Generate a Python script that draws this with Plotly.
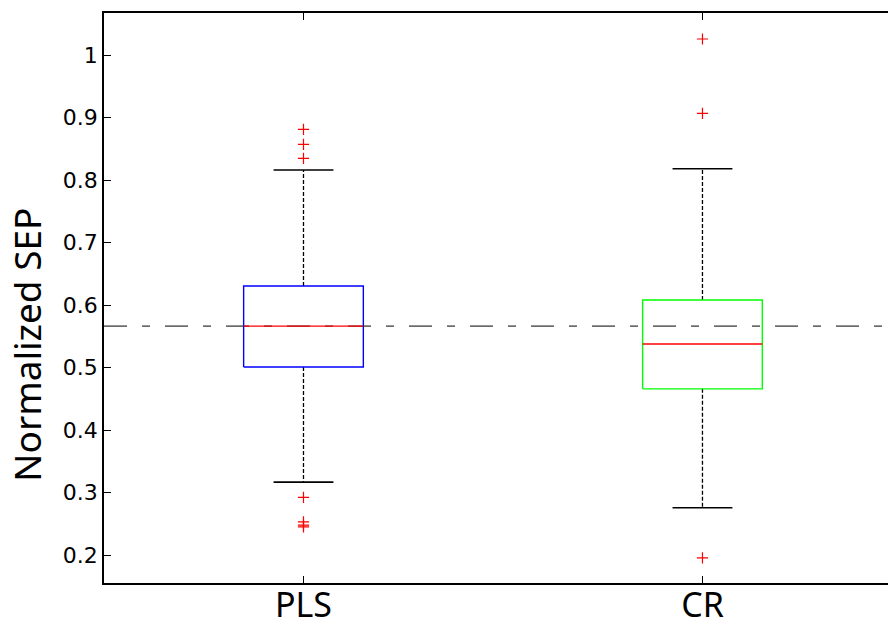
import plotly.graph_objects as go

# ---- data ----
categories = ["PLS", "CR"]
positions = [1, 2]
q1 = [0.501, 0.466]
median = [0.5665, 0.5377]
q3 = [0.6306, 0.6082]
lower_whisker = [0.3167, 0.2756]
upper_whisker = [0.8163, 0.8184]
outliers = [
    [0.8815, 0.8575, 0.835, 0.2922, 0.2532, 0.2480, 0.2452],
    [1.0261, 0.9071, 0.1955],
]
box_colors = ["#0000ff", "#00ff00"]
y_ticks = [0.2, 0.3, 0.4, 0.5, 0.6, 0.7, 0.8, 0.9, 1.0]
y_ticktext = ["0.2", "0.3", "0.4", "0.5", "0.6", "0.7", "0.8", "0.9", "1"]

BOX_HALF = 0.15
CAP_HALF = 0.075

fig = go.Figure()

# reference line at the first median
fig.add_trace(go.Scatter(
    x=[0.5, 2.6], y=[median[0], median[0]], mode="lines",
    line=dict(color="black", width=1, dash="23px,15px,8px,15px"),
    hoverinfo="skip", showlegend=False))

for i, p in enumerate(positions):
    # whiskers (dashed)
    fig.add_trace(go.Scatter(
        x=[p, p, None, p, p],
        y=[q3[i], upper_whisker[i], None, q1[i], lower_whisker[i]],
        mode="lines", line=dict(color="black", width=1.3, dash="4px,2px"),
        hoverinfo="skip", showlegend=False))
    # caps
    fig.add_trace(go.Scatter(
        x=[p - CAP_HALF, p + CAP_HALF, None, p - CAP_HALF, p + CAP_HALF],
        y=[upper_whisker[i], upper_whisker[i], None, lower_whisker[i], lower_whisker[i]],
        mode="lines", line=dict(color="black", width=1.6),
        hoverinfo="skip", showlegend=False))
    # box
    fig.add_trace(go.Scatter(
        x=[p - BOX_HALF, p + BOX_HALF, p + BOX_HALF, p - BOX_HALF, p - BOX_HALF],
        y=[q1[i], q1[i], q3[i], q3[i], q1[i]],
        mode="lines", line=dict(color=box_colors[i], width=1.4),
        hoverinfo="skip", showlegend=False))
    # median
    fig.add_trace(go.Scatter(
        x=[p - BOX_HALF, p + BOX_HALF], y=[median[i], median[i]],
        mode="lines", line=dict(color="#ff0000", width=1.4),
        hoverinfo="skip", showlegend=False))
    # outliers
    fig.add_trace(go.Scatter(
        x=[p] * len(outliers[i]), y=outliers[i], mode="markers",
        marker=dict(symbol="cross-thin", size=8, line=dict(color="#ff0000", width=1.2)),
        hoverinfo="skip", showlegend=False))

fig.update_layout(
    width=888, height=625,
    margin=dict(l=104, r=0, t=13, b=42),
    paper_bgcolor="white", plot_bgcolor="white",
    xaxis=dict(
        range=[0.5, 2.465], tickvals=positions, ticktext=categories,
        showgrid=False, zeroline=False,
        showline=True, linecolor="black", linewidth=1.5, mirror="ticks",
        ticks="inside", ticklen=7, tickwidth=1, tickcolor="black",
        ticklabelstandoff=-9,
        tickfont=dict(family="Noto Sans", size=34, color="black"),
        automargin=False),
    yaxis=dict(
        range=[0.1552, 1.0677], tickvals=y_ticks, ticktext=y_ticktext,
        showgrid=False, zeroline=False,
        showline=True, linecolor="black", linewidth=1.5, mirror=False,
        ticks="inside", ticklen=7, tickwidth=1, tickcolor="black",
        tickfont=dict(family="DejaVu Sans", size=22, color="black"),
        automargin=False),
    annotations=[dict(
        text="Normalized SEP", xref="paper", yref="paper",
        x=-0.1, y=0.4175, xanchor="center", yanchor="middle", showarrow=False,
        textangle=-90, font=dict(family="Noto Sans", size=37, color="black"))],
)

fig.write_html("out.html")
